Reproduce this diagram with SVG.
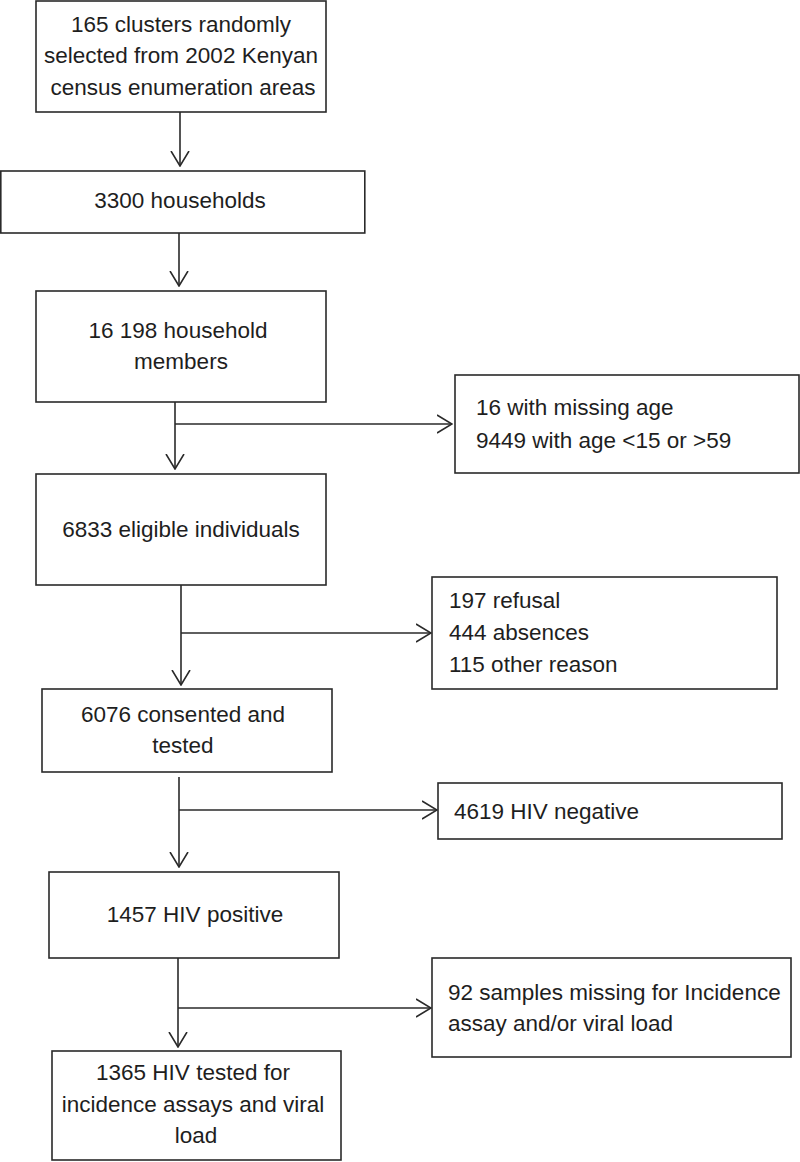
<svg xmlns="http://www.w3.org/2000/svg" width="800" height="1162" viewBox="0 0 800 1162">
<style>
.box{fill:#fff;stroke:#2a2a2a;stroke-width:1.6}
.c{fill:none;stroke:#2a2a2a;stroke-width:1.6}
text{font-family:"Liberation Sans",Arial,sans-serif;font-size:22.5px;fill:#1e1e1e}
.m{text-anchor:middle}
</style>
<defs>
<marker id="ah" viewBox="0 0 16 20" refX="15" refY="10" markerWidth="16" markerHeight="20" markerUnits="userSpaceOnUse" orient="auto">
<path d="M0,1 L15,10 L0,19" fill="none" stroke="#2a2a2a" stroke-width="1.6"/>
</marker>
</defs>
<rect width="800" height="1162" fill="#fff"/>
<g id="connectors">
<path class="c" d="M180,112 V166" marker-end="url(#ah)"/>
<path class="c" d="M179,233 V286" marker-end="url(#ah)"/>
<path class="c" d="M175,402 V469" marker-end="url(#ah)"/>
<path class="c" d="M175,424 H452" marker-end="url(#ah)"/>
<path class="c" d="M181,585 V685" marker-end="url(#ah)"/>
<path class="c" d="M181,633 H431" marker-end="url(#ah)"/>
<path class="c" d="M179,777 V867" marker-end="url(#ah)"/>
<path class="c" d="M179,810 H437" marker-end="url(#ah)"/>
<path class="c" d="M178,958 V1047" marker-end="url(#ah)"/>
<path class="c" d="M178,1008 H431" marker-end="url(#ah)"/>
</g>
<g id="n1"><rect class="box" x="36" y="1" width="290" height="111"/>
<text class="m" x="181" y="32">165 clusters randomly</text>
<text class="m" x="181" y="63">selected from 2002 Kenyan</text>
<text class="m" x="183" y="95">census enumeration areas</text></g>
<g id="n2"><rect class="box" x="0.8" y="171" width="364" height="62"/>
<text class="m" x="180" y="208">3300 households</text></g>
<g id="n3"><rect class="box" x="36" y="291" width="290" height="111"/>
<text class="m" x="178" y="338">16 198 household</text>
<text class="m" x="181" y="369">members</text></g>
<g id="r1"><rect class="box" x="455" y="375" width="344" height="98"/>
<text x="476" y="415">16 with missing age</text>
<text x="476" y="448">9449 with age &lt;15 or &gt;59</text></g>
<g id="n4"><rect class="box" x="36" y="474" width="290" height="111"/>
<text class="m" x="181" y="537">6833 eligible individuals</text></g>
<g id="r2"><rect class="box" x="432" y="577" width="345" height="112"/>
<text x="449" y="608">197 refusal</text>
<text x="449" y="640">444 absences</text>
<text x="449" y="672">115 other reason</text></g>
<g id="n5"><rect class="box" x="42" y="689" width="290" height="83"/>
<text class="m" x="183" y="722">6076 consented and</text>
<text class="m" x="183" y="753">tested</text></g>
<g id="r3"><rect class="box" x="438" y="783" width="344" height="56"/>
<text x="454" y="819">4619 HIV negative</text></g>
<g id="n6"><rect class="box" x="49" y="872" width="290" height="86"/>
<text class="m" x="195" y="922">1457 HIV positive</text></g>
<g id="r4"><rect class="box" x="432" y="958" width="359" height="99"/>
<text x="448" y="1000">92 samples missing for Incidence</text>
<text x="448" y="1031">assay and/or viral load</text></g>
<g id="n7"><rect class="box" x="52" y="1051" width="289" height="109"/>
<text class="m" x="193" y="1080">1365 HIV tested for</text>
<text class="m" x="193" y="1112">incidence assays and viral</text>
<text class="m" x="196" y="1143">load</text></g>
</svg>
